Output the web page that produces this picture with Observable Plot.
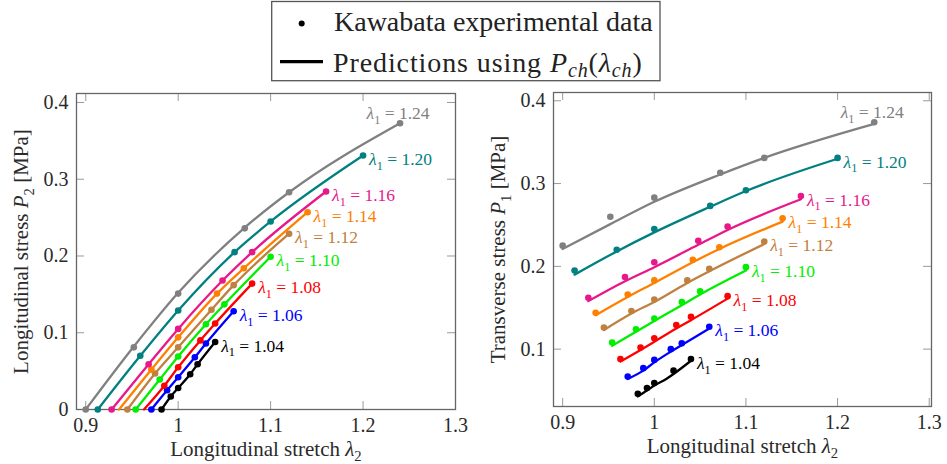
<!DOCTYPE html>
<html>
<head>
<meta charset="utf-8">
<script src="https://cdn.jsdelivr.net/npm/d3@7"></script>
<script src="https://cdn.jsdelivr.net/npm/@observablehq/plot@0.6"></script>
<style>
  html, body { margin: 0; padding: 0; background: #fff; }
  #wrap { position: relative; width: 947px; height: 464px; overflow: hidden; font-family: "Liberation Serif", "DejaVu Serif", serif; color: #222; }
  #legend { position: absolute; left: 268px; top: 0; }
  #left { position: absolute; left: 0; top: 85px; }
  #right { position: absolute; left: 477px; top: 85px; }
</style>
</head>
<body>
<div id="wrap">
  <svg id="legend" width="395" height="84"></svg>
  <div id="left"></div>
  <div id="right"></div>
</div>
<script>
// ---------------- data ----------------
const lambda1 = [1.04, 1.06, 1.08, 1.10, 1.12, 1.14, 1.16, 1.20, 1.24];
const seriesColors = ["#000000", "#0000ff", "#ff0000", "#00ee00", "#bf8040", "#ff8000", "#e8178a", "#008080", "#808080"];

// longitudinal stretch λ2 of each measured point, one list per λ1
const lam2 = [
  [0.982, 0.992, 1.000, 1.013, 1.021, 1.040],
  [0.971, 0.988, 1.000, 1.018, 1.030, 1.060],
  [0.963, 0.985, 1.000, 1.024, 1.040, 1.080],
  [0.954, 0.980, 1.000, 1.030, 1.050, 1.100],
  [0.945, 0.975, 1.000, 1.036, 1.060, 1.120],
  [0.936, 0.971, 1.000, 1.042, 1.071, 1.140],
  [0.928, 0.968, 1.000, 1.048, 1.080, 1.160],
  [0.913, 0.959, 1.000, 1.061, 1.100, 1.200],
  [0.900, 0.952, 1.000, 1.072, 1.120, 1.240]
];

// Longitudinal stress P2 [MPa]: Kawabata data (dots) and predictions (lines)
const p2Exp = [
  [0.000, 0.017, 0.028, 0.046, 0.059, 0.088],
  [0.000, 0.025, 0.042, 0.068, 0.086, 0.128],
  [null,  0.031, 0.055, 0.090, 0.112, 0.164],
  [0.000, 0.039, 0.069, 0.111, 0.137, 0.199],
  [0.000, 0.047, 0.081, 0.130, 0.162, 0.229],
  [null,  0.052, 0.094, 0.151, 0.184, 0.257],
  [0.000, 0.059, 0.105, 0.168, 0.205, 0.284],
  [0.000, 0.070, 0.129, 0.205, 0.245, 0.331],
  [0.000, 0.081, 0.151, 0.236, 0.283, 0.373]
];
const p2Fit = [
  [0.000, 0.017, 0.028, 0.046, 0.059, 0.088],
  [0.000, 0.025, 0.042, 0.068, 0.086, 0.128],
  [0.000, 0.031, 0.055, 0.090, 0.112, 0.164],
  [0.000, 0.039, 0.069, 0.111, 0.137, 0.199],
  [0.000, 0.047, 0.081, 0.130, 0.162, 0.229],
  [0.000, 0.052, 0.094, 0.151, 0.184, 0.257],
  [0.000, 0.059, 0.105, 0.168, 0.205, 0.284],
  [0.000, 0.070, 0.129, 0.205, 0.245, 0.331],
  [0.000, 0.082, 0.152, 0.237, 0.283, 0.373]
];

// Transverse stress P1 [MPa]
const p1Exp = [
  [0.046, 0.053, 0.059, null,  0.074, 0.088],
  [0.067, 0.077, 0.087, 0.100, 0.107, 0.127],
  [0.088, 0.102, 0.113, 0.129, 0.139, 0.164],
  [0.108, 0.124, 0.137, 0.157, 0.170, 0.199],
  [0.126, 0.146, 0.160, 0.183, 0.197, 0.230],
  [0.144, 0.166, 0.183, 0.208, 0.223, 0.258],
  [0.162, 0.187, 0.205, 0.231, 0.248, 0.285],
  [0.195, 0.220, 0.245, 0.273, 0.292, 0.331],
  [0.225, 0.260, 0.283, 0.313, 0.331, 0.374]
];
const p1Fit = [
  [0.043, 0.050, 0.056, 0.064, 0.070, 0.086],
  [0.064, 0.074, 0.084, 0.097, 0.105, 0.125],
  [0.085, 0.099, 0.109, 0.125, 0.135, 0.161],
  [0.104, 0.121, 0.134, 0.153, 0.166, 0.195],
  [0.123, 0.143, 0.157, 0.180, 0.194, 0.227],
  [0.141, 0.163, 0.180, 0.205, 0.221, 0.254],
  [0.158, 0.182, 0.199, 0.226, 0.244, 0.281],
  [0.190, 0.218, 0.241, 0.272, 0.291, 0.330],
  [0.221, 0.251, 0.278, 0.311, 0.331, 0.372]
];

const xTicks = [0.9, 1.0, 1.1, 1.2, 1.3];
const yTicksLeft = [0, 0.1, 0.2, 0.3, 0.4];
const yTicksRight = [0.1, 0.2, 0.3, 0.4];
const xLabel = "Longitudinal stretch λ2";
const yLabelLeft = "Longitudinal stress P2 [MPa]";
const yLabelRight = "Transverse stress P1 [MPa]";
const legendTexts = ["Kawabata experimental data", "Predictions using "];

// ---------------- helpers ----------------
const FONT = "'Liberation Serif', 'DejaVu Serif', serif";
const names = lambda1.map(v => "λ1 = " + v.toFixed(2));
const fmt = d => String(+(+d).toFixed(1));
const TICK = 8, TICKC = "#9a9a9a";

function rows(yExp, yFit) {
  const out = [];
  names.forEach((name, i) => lam2[i].forEach((x, j) => out.push({
    series: name, x, exp: yExp[i][j], fit: yFit[i][j], last: j === lam2[i].length - 1
  })));
  return out;
}

function panel({data, xDomain, yDomain, yTicks, yLabel, m, grayDy}) {
  const ends = data.filter(d => d.last);
  const top = names[names.length - 1];
  return Plot.plot({
    width: 470, height: 379,
    marginLeft: m[0], marginRight: m[1], marginTop: m[2], marginBottom: m[3],
    style: {fontFamily: FONT, fontSize: "20px", color: "#2a2a2a", background: "transparent", overflow: "visible"},
    x: {domain: xDomain, ticks: xTicks, tickSize: 0, tickPadding: 8, tickFormat: fmt,
        label: xLabel, labelAnchor: "center", labelOffset: 46, labelArrow: "none"},
    y: {domain: yDomain, ticks: yTicks, tickSize: 0, tickPadding: 8, tickFormat: fmt,
        label: yLabel, labelAnchor: "center", labelOffset: 63, labelArrow: "none"},
    color: {domain: names, range: seriesColors},
    marks: [
      Plot.ruleX(xTicks, {x: d => d, y1: yDomain[0], y2: yDomain[0], insetBottom: TICK, stroke: TICKC, strokeWidth: 1}),
      Plot.ruleX(xTicks, {x: d => d, y1: yDomain[1], y2: yDomain[1], insetTop: TICK, stroke: TICKC, strokeWidth: 1}),
      Plot.ruleY(yTicks, {y: d => d, x1: xDomain[0], x2: xDomain[0], insetLeft: TICK, stroke: TICKC, strokeWidth: 1}),
      Plot.ruleY(yTicks, {y: d => d, x1: xDomain[1], x2: xDomain[1], insetRight: TICK, stroke: TICKC, strokeWidth: 1}),
      Plot.frame({stroke: "#666", strokeWidth: 1.3}),
      Plot.line(data.filter(d => d.fit != null), {x: "x", y: "fit", z: "series", stroke: "series", strokeWidth: 2.3, curve: "monotone-x"}),
      Plot.dot(data.filter(d => d.exp != null), {x: "x", y: "exp", fill: "series", r: 3.3}),
      Plot.text(ends.filter(d => d.series !== top), {x: "x", y: "exp", text: "series", fill: "series",
        textAnchor: "start", dx: 6, dy: 4, fontSize: 17.5, fontFamily: FONT}),
      Plot.text(ends.filter(d => d.series === top), {x: "x", y: "exp", text: "series", fill: "series",
        textAnchor: "middle", dx: -2, dy: grayDy, fontSize: 17.5, fontFamily: FONT})
    ]
  });
}

// turn "λ1", "P2" into italic symbol + subscript
function rich(el) {
  let s = el.textContent.replace(/\s*[↑↓←→]\s*/g, "");
  const re = /(λ|P)(\d)/g;
  if (!re.test(s)) return;
  re.lastIndex = 0;
  if (/stretch|stress/.test(s)) el.setAttribute("font-size", 21);
  const fs = parseFloat(getComputedStyle(el).fontSize) || 17;
  const sh = Math.round(fs * 0.28 * 10) / 10;
  while (el.firstChild) el.removeChild(el.firstChild);
  const ns = "http://www.w3.org/2000/svg";
  let pendingUp = 0;
  const add = (t, opts = {}) => {
    const ts = document.createElementNS(ns, "tspan");
    ts.textContent = t;
    if (opts.italic) ts.setAttribute("font-style", "italic");
    if (opts.sub) { ts.setAttribute("font-size", (fs * 0.7) + "px"); ts.setAttribute("dy", sh); pendingUp = sh; }
    else if (pendingUp) { ts.setAttribute("dy", -pendingUp); pendingUp = 0; }
    el.appendChild(ts);
  };
  let last = 0, mm;
  while ((mm = re.exec(s))) {
    if (mm.index > last) add(s.slice(last, mm.index));
    add(mm[1], {italic: true});
    add(mm[2], {sub: true});
    last = re.lastIndex;
  }
  if (last < s.length) add(s.slice(last));
}

const left = panel({
  data: rows(p2Exp, p2Fit), xDomain: [0.89, 1.3], yDomain: [0, 0.4117], yTicks: yTicksLeft,
  yLabel: yLabelLeft, m: [76, 15, 8, 55], grayDy: -10
});
const right = panel({
  data: rows(p1Exp, p1Fit), xDomain: [0.89, 1.3025], yDomain: [0.0307, 0.41], yTicks: yTicksRight,
  yLabel: yLabelRight, m: [76, 16, 7, 58], grayDy: -10
});
document.getElementById("left").appendChild(left);
document.getElementById("right").appendChild(right);
[left, right].forEach(svg => svg.querySelectorAll("text").forEach(rich));

// ---------------- legend ----------------
const lg = d3.select("#legend");
lg.append("rect").attr("x", 3.7).attr("y", 1.5).attr("width", 388.3).attr("height", 79.2)
  .attr("fill", "#fff").attr("stroke", "#555").attr("stroke-width", 1.3);
lg.append("circle").attr("cx", 33.7).attr("cy", 23.5).attr("r", 3).attr("fill", "#000");
lg.append("line").attr("x1", 12).attr("x2", 55).attr("y1", 61.7).attr("y2", 61.7)
  .attr("stroke", "#000").attr("stroke-width", 3.3);
lg.append("text").attr("x", 66).attr("y", 31).attr("font-size", 28).attr("font-family", FONT)
  .attr("fill", "#222").text(legendTexts[0]);
const t2 = lg.append("text").attr("x", 65).attr("y", 71.5).attr("font-size", 28).attr("font-family", FONT)
  .attr("fill", "#222").attr("letter-spacing", 0.9);
t2.append("tspan").text(legendTexts[1]);
t2.append("tspan").attr("font-style", "italic").text("P");
t2.append("tspan").attr("font-style", "italic").attr("font-size", 20).attr("dy", 5).text("ch");
t2.append("tspan").attr("dy", -5).text("(");
t2.append("tspan").attr("font-style", "italic").text("λ");
t2.append("tspan").attr("font-style", "italic").attr("font-size", 20).attr("dy", 5).text("ch");
t2.append("tspan").attr("dy", -5).text(")");
</script>
</body>
</html>
